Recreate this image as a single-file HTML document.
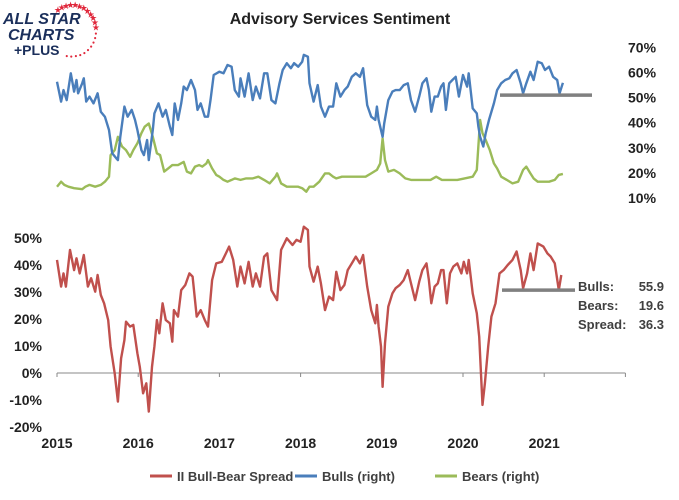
<!DOCTYPE html>
<html><head><meta charset="utf-8">
<style>
body{margin:0;background:#fff;width:679px;height:495px;overflow:hidden;font-family:"Liberation Sans",Arial,sans-serif}
svg text{font-family:"Liberation Sans",Arial,sans-serif}
</style></head>
<body>
<svg id="chart" width="679" height="495" viewBox="0 0 679 495" xmlns="http://www.w3.org/2000/svg">
  <g>
    <text x="3" y="24" font-size="16" font-weight="900" font-style="italic" fill="#1b2f5b">ALL STAR</text>
    <text x="8" y="40" font-size="16" font-weight="900" font-style="italic" fill="#1b2f5b">CHARTS</text>
    <text x="14" y="55" font-size="14" font-weight="900" fill="#1b2f5b">+PLUS</text>
    <g id="stars" fill="#e0283c"></g>
  </g>
  <text x="340" y="24" font-size="16" font-weight="bold" text-anchor="middle" fill="#222">Advisory Services Sentiment</text>
  <g id="rightAxis"></g>
  <g id="leftAxis"></g>
  <g id="xAxis"></g>
  <g id="series"></g>
  <g font-size="13" font-weight="bold" fill="#404040">
    <text x="578" y="291">Bulls:</text><text id="vBulls" x="664" y="291" text-anchor="end"></text>
    <text x="578" y="310">Bears:</text><text id="vBears" x="664" y="310" text-anchor="end"></text>
    <text x="578" y="329">Spread:</text><text id="vSpread" x="664" y="329" text-anchor="end"></text>
  </g>
  <g font-size="13" font-weight="bold" fill="#404040">
    <line x1="150" y1="476" x2="172" y2="476" stroke="#c0504d" stroke-width="3"/>
    <text x="177" y="481">II Bull-Bear Spread</text>
    <line x1="295" y1="476" x2="317" y2="476" stroke="#4a7ebb" stroke-width="3"/>
    <text x="322" y="481">Bulls (right)</text>
    <line x1="435" y1="476" x2="457" y2="476" stroke="#9bbb59" stroke-width="3"/>
    <text x="462" y="481">Bears (right)</text>
  </g>
</svg>
<script>
const bullDates=[0,.05,.08,.12,.17,.21,.24,.26,.31,.33,.36,.40,.45,.50,.54,.59,.64,.68,.73,.75,.78,.83,.87,.92,.96,.99,1.04,1.07,1.11,1.13,1.18,1.20,1.25,1.30,1.34,1.39,1.42,1.45,1.49,1.53,1.56,1.60,1.65,1.70,1.73,1.77,1.82,1.86,1.89,1.93,2.00,2.05,2.10,2.15,2.19,2.24,2.26,2.31,2.36,2.41,2.45,2.50,2.55,2.59,2.64,2.69,2.74,2.78,2.83,2.88,2.92,2.97,3.02,3.04,3.09,3.11,3.16,3.21,3.25,3.30,3.35,3.40,3.44,3.49,3.54,3.58,3.63,3.68,3.73,3.77,3.82,3.87,3.92,3.94,3.96,4.01,4.03,4.08,4.13,4.17,4.22,4.27,4.32,4.36,4.41,4.46,4.50,4.55,4.58,4.61,4.65,4.69,4.73,4.76,4.79,4.83,4.87,4.91,4.95,5.00,5.05,5.07,5.12,5.17,5.19,5.21,5.25,5.28,5.32,5.38,5.42,5.47,5.52,5.57,5.61,5.66,5.71,5.74,5.78,5.83,5.87,5.92,5.97,6.01,6.06,6.11,6.16,6.19,6.23];
const bullValues=[56.3,48.4,53.0,49.0,59.7,52.4,57.0,51.7,55.7,57.7,48.4,50.4,47.7,51.7,44.4,42.4,37.1,27.8,25.8,25.1,34.4,46.4,42.4,45.1,41.1,37.1,29.1,27.1,33.1,25.1,37.1,43.7,47.7,42.4,45.1,38.4,35.1,47.7,41.1,47.7,54.4,53.0,57.0,53.0,45.1,47.7,42.4,42.4,49.0,59.0,60.3,59.7,63.0,62.3,53.0,50.4,57.7,50.4,59.7,49.0,54.4,49.7,59.7,59.7,49.0,47.7,55.7,61.0,63.7,61.7,63.7,62.3,64.3,67.0,66.3,55.7,48.4,55.0,46.4,42.4,46.4,46.4,55.7,50.4,53.0,54.4,58.3,59.7,58.3,61.7,47.0,42.4,41.1,46.4,41.1,34.4,39.7,49.0,52.4,53.0,53.0,55.0,55.7,49.0,44.4,50.4,55.7,57.7,53.0,44.4,50.4,50.4,54.4,55.7,45.1,55.7,57.0,58.3,50.4,59.0,54.4,59.7,45.7,43.7,38.4,34.4,30.5,35.8,41.1,47.7,53.0,55.7,57.0,57.7,59.7,61.0,55.7,51.7,55.7,60.3,57.0,64.3,63.7,61.0,62.3,58.3,57.0,51.7,55.9];
const bearDates=[0,.05,.09,.14,.21,.31,.35,.40,.47,.54,.59,.64,.66,.71,.75,.80,.85,.90,.94,.99,1.04,1.08,1.13,1.18,1.23,1.27,1.32,1.37,1.42,1.49,1.56,1.60,1.65,1.70,1.75,1.79,1.84,1.86,1.91,1.96,2.00,2.05,2.10,2.15,2.19,2.26,2.33,2.41,2.48,2.55,2.62,2.69,2.71,2.76,2.83,2.90,2.97,3.02,3.07,3.11,3.16,3.23,3.30,3.35,3.40,3.44,3.51,3.61,3.70,3.80,3.87,3.94,3.98,4.01,4.04,4.08,4.15,4.22,4.29,4.36,4.46,4.53,4.60,4.67,4.74,4.83,4.93,5.02,5.12,5.17,5.21,5.24,5.28,5.33,5.38,5.42,5.47,5.54,5.61,5.68,5.74,5.78,5.83,5.87,5.92,5.99,6.06,6.13,6.18,6.23];
const bearValues=[14.5,16.5,15.2,14.5,13.9,13.5,14.5,15.2,14.5,15.2,16.5,18.5,27.1,29.1,34.4,30.5,29.1,26.4,29.1,31.8,35.8,38.4,39.7,34.4,27.8,27.1,20.5,21.8,23.1,23.1,24.4,20.5,19.8,22.5,23.1,22.5,23.8,25.1,21.8,19.2,18.5,17.2,16.5,17.2,17.8,17.2,17.8,17.8,18.5,17.2,15.8,18.5,19.8,15.8,14.5,14.5,14.5,13.9,12.5,14.5,14.5,16.5,19.8,19.8,18.5,17.8,18.5,18.5,18.5,18.5,19.8,21.2,23.8,33.8,25.1,20.5,21.2,19.8,17.8,17.2,17.2,17.2,17.2,18.5,17.2,17.2,17.2,17.8,18.5,21.2,41.1,35.8,33.1,29.1,23.8,21.8,18.5,17.2,15.8,16.5,21.2,22.5,19.8,17.8,16.5,16.5,16.5,17.2,19.2,19.6];
const spreadDates=[0,.05,.08,.11,.16,.21,.24,.28,.33,.38,.42,.47,.50,.54,.58,.63,.66,.71,.75,.79,.83,.85,.90,.94,.99,1.02,1.06,1.10,1.13,1.17,1.20,1.23,1.26,1.30,1.34,1.39,1.42,1.44,1.49,1.53,1.58,1.63,1.67,1.72,1.77,1.82,1.86,1.91,1.96,2.03,2.08,2.12,2.17,2.22,2.26,2.31,2.36,2.41,2.45,2.50,2.55,2.59,2.64,2.71,2.76,2.83,2.90,2.95,3.00,3.04,3.09,3.11,3.16,3.21,3.25,3.30,3.35,3.40,3.44,3.49,3.54,3.58,3.63,3.68,3.73,3.77,3.82,3.87,3.92,3.94,3.96,3.99,4.01,4.04,4.08,4.13,4.17,4.22,4.27,4.32,4.36,4.41,4.46,4.50,4.55,4.58,4.61,4.65,4.69,4.73,4.76,4.80,4.84,4.88,4.93,4.98,5.01,5.05,5.07,5.12,5.17,5.20,5.24,5.27,5.31,5.35,5.40,5.45,5.50,5.55,5.61,5.66,5.71,5.74,5.79,5.83,5.87,5.92,5.99,6.04,6.08,6.13,6.18,6.21];
const spreadValues=[41.9,32.0,36.9,32.0,45.6,38.1,42.5,36.9,43.7,32.0,35.1,30.1,36.3,28.9,25.8,19.6,9.8,-0.1,-10.6,5.4,12.2,19.0,17.2,17.8,7.3,2.3,-7.5,-3.8,-14.3,2.3,9.8,19.6,14.7,25.8,19.6,18.4,11.6,23.3,20.9,30.7,32.6,36.9,35.7,20.9,23.3,19.6,17.2,34.4,40.6,41.2,44.3,46.8,41.9,32.0,39.4,33.2,41.2,32.0,36.9,32.0,43.1,44.3,30.7,27.0,45.6,49.9,47.4,49.3,48.6,54.2,53.0,39.4,33.8,39.4,33.2,23.3,28.3,27.0,37.5,30.7,32.6,38.1,40.6,43.1,40.6,43.7,32.0,23.3,18.4,25.2,17.2,9.8,-5.1,11.0,24.6,29.5,31.4,32.6,34.4,38.1,33.2,27.0,33.8,38.1,40.6,34.4,25.8,32.0,33.2,38.1,38.1,25.8,36.9,39.4,40.6,36.9,41.2,36.9,41.9,29.5,22.1,13.5,-11.8,-3.8,9.8,20.9,25.8,36.9,38.1,40.0,41.9,45.0,38.1,31.4,36.9,44.3,38.1,48.0,46.8,44.3,43.1,40.6,30.7,36.3];
const yearLabels=["2015","2016","2017","2018","2019","2020","2021"];
const rightTicks=[10,20,30,40,50,60,70];
const leftTicks=[-20,-10,0,10,20,30,40,50];
const bullRef=51.0, spreadRef=30.7;

const NS="http://www.w3.org/2000/svg";
const svg=document.getElementById('chart');
const X=t=>57+t*81.2;
const YR=v=>198-(v-10)*2.51;
const YL=v=>373-v*2.7;
function mk(tag,attrs,parent){const e=document.createElementNS(NS,tag);for(const k in attrs)e.setAttribute(k,attrs[k]);parent.appendChild(e);return e;}

// stars
const stars=document.getElementById('stars');
for(let i=0;i<22;i++){const a=-2.2+i*0.19;const cx=72+24*Math.cos(a),cy=30+25*Math.sin(a);
  const s=mk('text',{x:cx,y:cy+3,'font-size':(i<12?9:5),'text-anchor':'middle'},stars);s.textContent=i<12?'★':'●';
  
  }

const ra=document.getElementById('rightAxis');
rightTicks.forEach(v=>{const t=mk('text',{x:628,y:YR(v)+5,'font-size':14,'font-weight':'bold',fill:'#222'},ra);t.textContent=v+'%';
  
  });
const la=document.getElementById('leftAxis');
leftTicks.forEach(v=>{const t=mk('text',{x:42,y:YL(v)+5,'font-size':14,'font-weight':'bold',fill:'#222','text-anchor':'end'},la);t.textContent=v+'%';
  
  });
const xa=document.getElementById('xAxis');
const ax=mk('line',{x1:X(0),x2:X(7),y1:YL(0),y2:YL(0),stroke:'#888','stroke-width':1},xa);


for(let i=0;i<=7;i++){const tk=mk('line',{x1:X(i),x2:X(i),y1:YL(0),y2:YL(0)+4,stroke:'#888'},xa);
  
  }
yearLabels.forEach((y,i)=>{const t=mk('text',{x:X(i),y:448,'font-size':14,'font-weight':'bold',fill:'#222','text-anchor':'middle'},xa);t.textContent=y;
  
  });

const g=document.getElementById('series');
function line(dates,vals,Y,color,name){const d=dates.map((t,i)=>(i?'L':'M')+X(t).toFixed(1)+','+Y(vals[i]).toFixed(1)).join('');
  const p=mk('path',{d:d,fill:'none',stroke:color,'stroke-width':2.4,'stroke-linejoin':'round'},g);
  
  }
line(spreadDates,spreadValues,YL,'#c0504d','spread-line');
line(bearDates,bearValues,YR,'#9bbb59','bears-line');
line(bullDates,bullValues,YR,'#4a7ebb','bulls-line');
const r1=mk('line',{x1:500,x2:592,y1:YR(bullRef),y2:YR(bullRef),stroke:'#808080','stroke-width':3.5},g);


const r2=mk('line',{x1:502,x2:575,y1:YL(spreadRef),y2:YL(spreadRef),stroke:'#808080','stroke-width':3.5},g);


document.getElementById('vBulls').textContent=bullValues[bullValues.length-1].toFixed(1);
document.getElementById('vBears').textContent=bearValues[bearValues.length-1].toFixed(1);
document.getElementById('vSpread').textContent=spreadValues[spreadValues.length-1].toFixed(1);
</script>
</body></html>
